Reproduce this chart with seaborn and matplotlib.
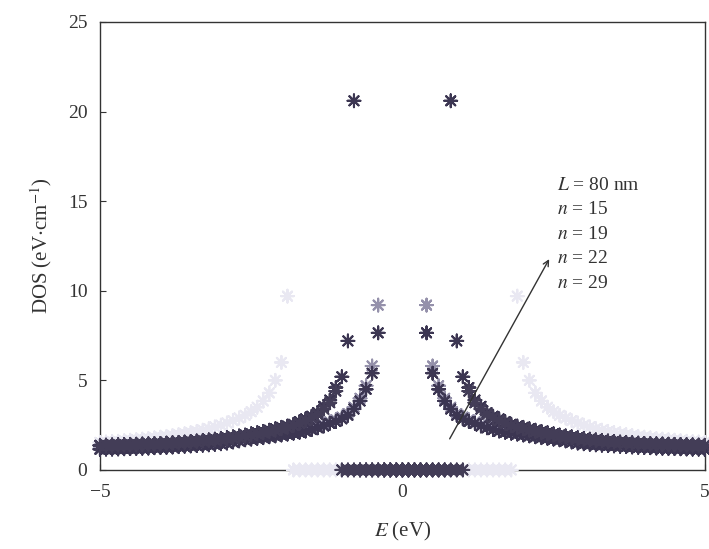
import numpy as np
import pandas as pd
import matplotlib
matplotlib.use("Agg")
import matplotlib.pyplot as plt
import seaborn as sns

# Energy grid (positive half, eV); the curves are symmetric about E = 0
energy_half = [round(0.1 * i, 1) for i in range(51)]

# DOS values for E = 0.0, 0.1, ..., 5.0
dos_faint = [0, 0, 0, 0, 0, 0, 0, 0, 0, 0,
             0, 0, 0, 0, 0, 0, 0, 0, 0, 9.7,
             6.0, 5.0, 4.3, 3.85, 3.5, 3.25, 3.05, 2.9, 2.75, 2.62,
             2.5, 2.4, 2.3, 2.22, 2.15, 2.08, 2.02, 1.97, 1.92, 1.87,
             1.83, 1.79, 1.75, 1.72, 1.69, 1.66, 1.63, 1.6, 1.58, 1.56,
             1.54]
dos_mid = [0, 0, 0, 0, 9.2, 5.8, 4.7, 4.0, 3.5, 3.15,
           2.95, 2.8, 2.68, 2.53, 2.42, 2.32, 2.24, 2.17, 2.11, 2.06,
           2.01, 1.96, 1.91, 1.86, 1.81, 1.77, 1.72, 1.66, 1.6, 1.55,
           1.5, 1.47, 1.44, 1.42, 1.4, 1.38, 1.36, 1.34, 1.32, 1.3,
           1.29, 1.28, 1.26, 1.25, 1.24, 1.23, 1.22, 1.21, 1.2, 1.2,
           1.19]
dos_inner = [0, 0, 0, 0, 7.65, 5.4, 4.5, 3.85, 3.4, 3.05,
             2.85, 2.7, 2.6, 2.45, 2.35, 2.25, 2.17, 2.1, 2.05, 2.0,
             1.95, 1.9, 1.85, 1.8, 1.76, 1.72, 1.68, 1.62, 1.56, 1.5,
             1.46, 1.43, 1.4, 1.38, 1.36, 1.34, 1.32, 1.3, 1.28, 1.26,
             1.25, 1.24, 1.22, 1.21, 1.2, 1.19, 1.18, 1.17, 1.16, 1.16,
             1.15]
dos_peak = [0, 0, 0, 0, 0, 0, 0, 0, 20.6, 7.2,
            5.2, 4.6, 3.9, 3.55, 3.2, 3.0, 2.85, 2.7, 2.55, 2.45,
            2.38, 2.3, 2.22, 2.15, 2.08, 2.02, 1.95, 1.9, 1.85, 1.8,
            1.76, 1.72, 1.68, 1.65, 1.62, 1.59, 1.56, 1.54, 1.52, 1.5,
            1.48, 1.47, 1.46, 1.45, 1.44, 1.43, 1.42, 1.41, 1.4, 1.39,
            1.38]
dos_outer = [0, 0, 0, 0, 0, 0, 0, 0, 0, 0,
             0, 4.4, 3.75, 3.4, 3.1, 2.9, 2.75, 2.6, 2.48, 2.38,
             2.3, 2.22, 2.15, 2.08, 2.02, 1.96, 1.9, 1.85, 1.8, 1.76,
             1.72, 1.68, 1.65, 1.62, 1.59, 1.56, 1.54, 1.52, 1.5, 1.48,
             1.46, 1.45, 1.44, 1.43, 1.42, 1.41, 1.4, 1.39, 1.38, 1.37,
             1.36]

series_names = ["faint", "mid", "inner", "peak", "outer"]
series_values = [dos_faint, dos_mid, dos_inner, dos_peak, dos_outer]
series_colors = ["#e9e8f2", "#9591ab", "#3c3652", "#3c3652", "#433d57"]

annot_lines = [r"$L$ = 80 nm", r"$n$ = 15", r"$n$ = 19", r"$n$ = 22", r"$n$ = 29"]


def mirror(values):
    # full curve from -5 to 5 using the symmetry of the figure
    return list(values[:0:-1]) + list(values)


energy_full = [-e for e in energy_half[:0:-1]] + energy_half

frames = []
for name, vals in zip(series_names, series_values):
    frames.append(pd.DataFrame({"E": energy_full, "DOS": mirror(vals), "series": name}))
df = pd.concat(frames, ignore_index=True)

sns.set_style("ticks")
plt.rcParams["font.family"] = ["Liberation Serif", "DejaVu Serif"]
plt.rcParams["mathtext.fontset"] = "stix"

fig = plt.figure(figsize=(7.09, 5.49), dpi=100)
ax = fig.add_axes([0.141, 0.144, 0.853, 0.816])

sns.scatterplot(data=df, x="E", y="DOS", hue="series", hue_order=series_names,
                palette=series_colors, marker=(8, 2, 0), s=85, linewidth=1.5,
                legend=False, ax=ax, clip_on=False, zorder=3)

ax.set_xlim(-5, 5)
ax.set_ylim(0, 25)
ax.set_xticks([-5, 0, 5])
ax.set_yticks([0, 5, 10, 15, 20, 25])
ax.set_xticklabels(["\u22125", "0", "5"])
ax.tick_params(direction="in", length=4, width=0.8, labelsize=14, colors="#333333")
ax.tick_params(axis="x", pad=10)
ax.tick_params(axis="y", pad=9)
for side in ["top", "right", "left", "bottom"]:
    ax.spines[side].set_visible(True)
    ax.spines[side].set_linewidth(1.0)
    ax.spines[side].set_color("#333333")

ax.set_xlabel(r"$E$ (eV)", fontsize=15, color="#333333", labelpad=14)
ax.set_ylabel(r"DOS (eV$\cdot$cm$^{-1}$)", fontsize=15, color="#333333", labelpad=10)

# annotation block with arrow
ax.annotate("", xy=(2.45, 11.9), xytext=(0.76, 1.6),
            arrowprops=dict(arrowstyle="->", lw=1.0, color="#333333"))
for i, txt in enumerate(annot_lines):
    ax.text(2.55, 15.9 - 1.37 * i, txt, fontsize=14, color="#333333", va="center", ha="left")

fig.savefig("out.png", dpi=100)
